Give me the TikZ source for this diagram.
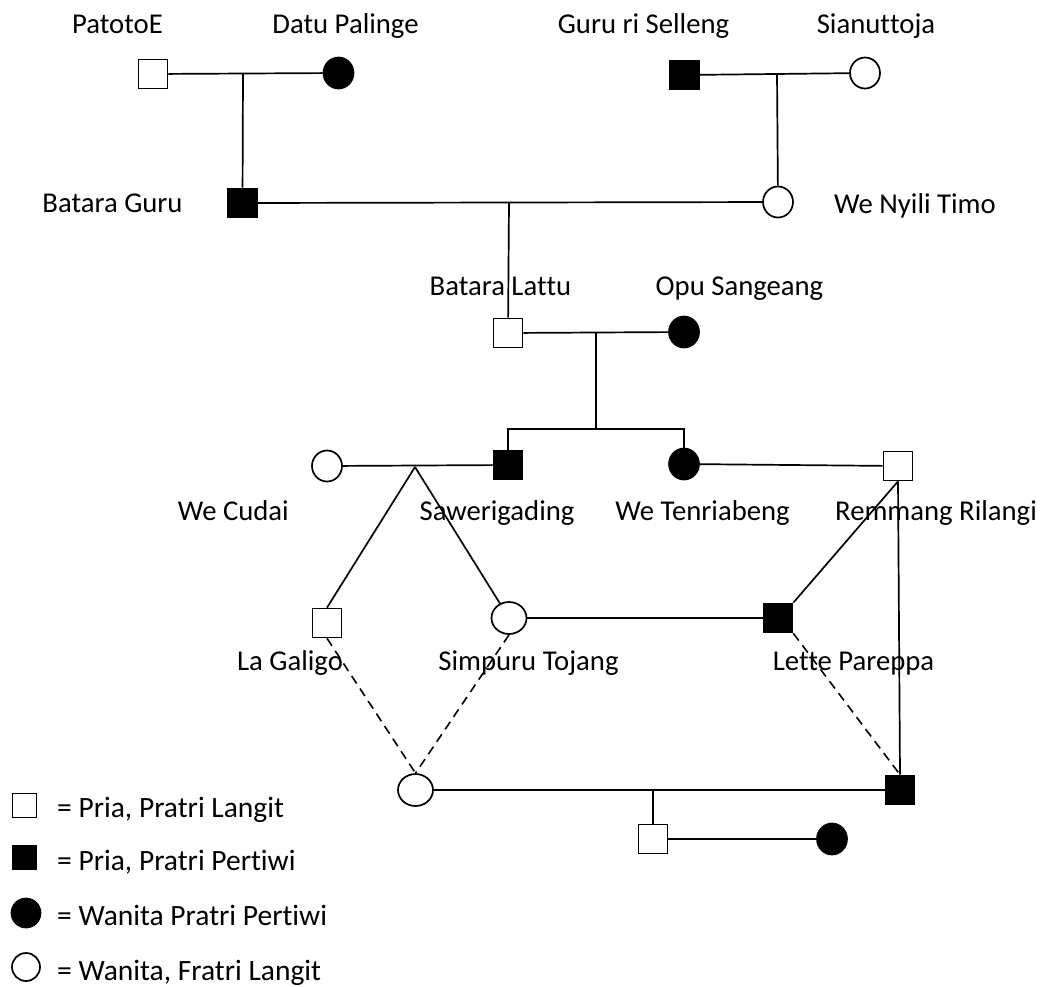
\documentclass[tikz,border=0pt]{standalone}
\usepackage{fontspec}
\setmainfont{Carlito}[RawFeature={-liga;-clig;-calt;-dlig;-rlig}]
\usetikzlibrary{shapes.geometric}
\newcommand{\nlg}{\kern0pt }
\begin{document}
\begin{tikzpicture}[x=1pt,y=-1pt,
  every node/.style={inner sep=0pt},
  ln/.style={line width=1.7pt},
  dsh/.style={line width=1.6pt,dash pattern=on 9pt off 6pt},
  sqo/.style={draw,line width=1.7pt,fill=white,rectangle,minimum size=29pt},
  sqf/.style={draw,line width=1.7pt,fill=black,rectangle,minimum size=29pt},
  cio/.style={draw,line width=1.7pt,fill=white,ellipse,minimum width=30pt,minimum height=31pt},
  cif/.style={draw,line width=1.7pt,fill=black,ellipse,minimum width=30pt,minimum height=31pt},
  eio/.style={draw,line width=1.7pt,fill=white,ellipse,minimum width=35pt,minimum height=32pt},
  lbl/.style={font=\fontsize{28.7}{34}\selectfont,anchor=base},
  leg/.style={font=\fontsize{29.5}{35}\selectfont,anchor=base west}
]
\useasboundingbox (0,0) rectangle (1043,986);

% persons
\node[sqo] (p1) at (153,74) {};
\node[cif] (p2) at (338.5,73) {};
\node[sqf] (p3) at (684.5,75) {};
\node[cio] (p4) at (865,73) {};
\node[sqf] (bg) at (242.5,203) {};
\node[cio] (wn) at (778,202) {};
\node[sqo] (bl) at (508,333) {};
\node[cif] (os) at (684,332) {};
\node[sqf] (sw) at (508,465) {};
\node[cif] (wt) at (684,464) {};
\node[cio] (wc) at (327,466) {};
\node[sqo] (rr) at (898,466) {};
\node[sqo] (lg) at (327,623) {};
\node[eio] (st) at (509,618) {};
\node[sqf] (lp) at (778,618) {};
\node[eio] (bc) at (415.5,790) {};
\node[sqf] (bs) at (900,790) {};
\node[sqo] (cs) at (653,839) {};
\node[cif] (cc) at (832,839) {};

% junction points
\coordinate (m1) at (243,74);
\coordinate (m2) at (777,74);
\coordinate (m3) at (509,203);
\coordinate (m4) at (596,333);
\coordinate (m5) at (596,429);
\coordinate (m6) at (415,467);
\coordinate (m7) at (653,791);

% connectors
\draw[ln] (p1) -- (p2);
\draw[ln] (m1) -- (bg);
\draw[ln] (p3) -- (p4);
\draw[ln] (m2) -- (wn);
\draw[ln] (bg) -- (wn);
\draw[ln] (m3) -- (bl);
\draw[ln] (bl) -- (os);
\draw[ln] (m4) -- (m5);
\draw[ln] (sw) |- (m5) -| (wt);
\draw[ln] (wc) -- (sw);
\draw[ln] (m6) -- (lg.north);
\draw[ln] (m6) -- (st);
\draw[ln] (wt) -- (rr);
\draw[ln] (rr.south) -- (lp.north east);
\draw[ln] (rr.south) -- (bs.north);
\draw[ln] (st) -- (lp);
\draw[ln] (bc) -- (bs);
\draw[ln] (m7) -- (cs);
\draw[ln] (cs) -- (cc);
\draw[dsh] (lg.south) -- (bc.north);
\draw[dsh] (st.south) -- (bc.north);
\draw[dsh] (lp.south east) -- (bs.north);

% labels
\node[lbl] (t1) at (117.5,33) {PatotoE};
\node[lbl] (t2) at (345.5,33) {Datu Palinge};
\node[lbl] (t3) at (643.5,33) {Guru ri Selleng};
\node[lbl] (t4) at (876,33) {Sianut\nlg toja};
\node[lbl] (t5) at (112.5,212) {Batara Guru};
\node[lbl] (t6) at (915,213) {We Nyili Timo};
\node[lbl] (t7) at (500.5,295) {Batara Lat\nlg tu};
\node[lbl] (t8) at (739.5,295) {Opu Sangeang};
\node[lbl,anchor=base east] (t9) at (289,520) {We Cudai};
\node[lbl] (t10) at (497,520) {Sawerigading};
\node[lbl] (t11) at (702.5,520) {We Tenriabeng};
\node[lbl] (t12) at (936,520) {Remmang Rilangi};
\node[lbl] (t13) at (290,670) {La Galigo};
\node[lbl] (t14) at (528.5,670) {Simpuru Tojang};
\node[lbl] (t15) at (853.5,670) {Lette Pareppa};

% legend
\node[draw,line width=1.7pt,rectangle,minimum size=24pt] (k1) at (24.5,805.5) {};
\node[draw,line width=1.7pt,fill=black,rectangle,minimum size=24pt] (k2) at (24.5,857.5) {};
\node[draw,line width=1.7pt,fill=black,circle,minimum size=29pt] (k3) at (26,913) {};
\node[draw,line width=1.7pt,circle,minimum size=28pt] (k4) at (26,967) {};
\node[leg] (l1) at (57,817) {= Pria, Pratri Langit};
\node[leg] (l2) at (57,870) {= Pria, Pratri Pert\nlg iwi};
\node[leg] (l3) at (57,925) {= Wanita Pratri Pert\nlg iwi};
\node[leg] (l4) at (57,980) {= Wanita, Fratri Langit};
\end{tikzpicture}
\end{document}
